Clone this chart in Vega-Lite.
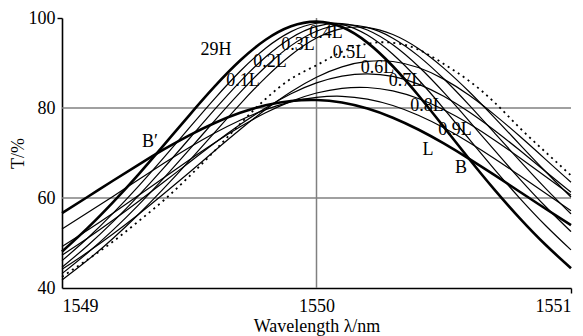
{
  "$schema": "https://vega.github.io/schema/vega-lite/v6.json",
  "width": 509,
  "height": 270,
  "autosize": {"type": "none"},
  "padding": {"left": 62, "top": 18, "right": 12, "bottom": 48},
  "config": {
    "view": {"stroke": null},
    "font": "Liberation Serif",
    "axis": {
      "labelFont": "Liberation Serif",
      "titleFont": "Liberation Serif",
      "labelFontSize": 18,
      "titleFontSize": 18,
      "titleFontWeight": "normal",
      "labelColor": "#000",
      "titleColor": "#000",
      "domainColor": "#000",
      "domainWidth": 1.6,
      "tickColor": "#000",
      "tickWidth": 1.4,
      "grid": false,
      "labelOverlap": false
    }
  },
  "datasets": {
    "curves": [
      {"curve":"29H","wl":1549.0,"T":48.09},{"curve":"29H","wl":1549.1,"T":53.31},{"curve":"29H","wl":1549.2,"T":59.04},{"curve":"29H","wl":1549.3,"T":65.21},{"curve":"29H","wl":1549.4,"T":71.75},{"curve":"29H","wl":1549.5,"T":78.38},{"curve":"29H","wl":1549.6,"T":84.79},{"curve":"29H","wl":1549.7,"T":90.54},{"curve":"29H","wl":1549.8,"T":95.16},{"curve":"29H","wl":1549.9,"T":98.16},{"curve":"29H","wl":1550.0,"T":99.2},{"curve":"29H","wl":1550.1,"T":97.99},{"curve":"29H","wl":1550.2,"T":94.53},{"curve":"29H","wl":1550.3,"T":89.28},{"curve":"29H","wl":1550.4,"T":82.84},{"curve":"29H","wl":1550.5,"T":75.81},{"curve":"29H","wl":1550.6,"T":68.68},{"curve":"29H","wl":1550.7,"T":61.81},{"curve":"29H","wl":1550.8,"T":55.42},{"curve":"29H","wl":1550.9,"T":49.6},{"curve":"29H","wl":1551.0,"T":44.39},
      {"curve":"0.1L","wl":1549.0,"T":46.06},{"curve":"0.1L","wl":1549.1,"T":51.05},{"curve":"0.1L","wl":1549.2,"T":56.57},{"curve":"0.1L","wl":1549.3,"T":62.58},{"curve":"0.1L","wl":1549.4,"T":68.97},{"curve":"0.1L","wl":1549.5,"T":75.58},{"curve":"0.1L","wl":1549.6,"T":82.1},{"curve":"0.1L","wl":1549.7,"T":88.17},{"curve":"0.1L","wl":1549.8,"T":93.29},{"curve":"0.1L","wl":1549.9,"T":96.98},{"curve":"0.1L","wl":1550.0,"T":98.83},{"curve":"0.1L","wl":1550.1,"T":98.6},{"curve":"0.1L","wl":1550.2,"T":96.21},{"curve":"0.1L","wl":1550.3,"T":91.96},{"curve":"0.1L","wl":1550.4,"T":86.33},{"curve":"0.1L","wl":1550.5,"T":79.87},{"curve":"0.1L","wl":1550.6,"T":73.07},{"curve":"0.1L","wl":1550.7,"T":66.31},{"curve":"0.1L","wl":1550.8,"T":59.87},{"curve":"0.1L","wl":1550.9,"T":53.89},{"curve":"0.1L","wl":1551.0,"T":48.46},
      {"curve":"0.2L","wl":1549.0,"T":44.61},{"curve":"0.2L","wl":1549.1,"T":49.4},{"curve":"0.2L","wl":1549.2,"T":54.7},{"curve":"0.2L","wl":1549.3,"T":60.49},{"curve":"0.2L","wl":1549.4,"T":66.69},{"curve":"0.2L","wl":1549.5,"T":73.17},{"curve":"0.2L","wl":1549.6,"T":79.68},{"curve":"0.2L","wl":1549.7,"T":85.88},{"curve":"0.2L","wl":1549.8,"T":91.35},{"curve":"0.2L","wl":1549.9,"T":95.58},{"curve":"0.2L","wl":1550.0,"T":98.14},{"curve":"0.2L","wl":1550.1,"T":98.76},{"curve":"0.2L","wl":1550.2,"T":97.34},{"curve":"0.2L","wl":1550.3,"T":94.06},{"curve":"0.2L","wl":1550.4,"T":89.28},{"curve":"0.2L","wl":1550.5,"T":83.47},{"curve":"0.2L","wl":1550.6,"T":77.09},{"curve":"0.2L","wl":1550.7,"T":70.56},{"curve":"0.2L","wl":1550.8,"T":64.16},{"curve":"0.2L","wl":1550.9,"T":58.11},{"curve":"0.2L","wl":1551.0,"T":52.52},
      {"curve":"0.3L","wl":1549.0,"T":43.2},{"curve":"0.3L","wl":1549.1,"T":47.78},{"curve":"0.3L","wl":1549.2,"T":52.85},{"curve":"0.3L","wl":1549.3,"T":58.42},{"curve":"0.3L","wl":1549.4,"T":64.43},{"curve":"0.3L","wl":1549.5,"T":70.75},{"curve":"0.3L","wl":1549.6,"T":77.2},{"curve":"0.3L","wl":1549.7,"T":83.47},{"curve":"0.3L","wl":1549.8,"T":89.18},{"curve":"0.3L","wl":1549.9,"T":93.86},{"curve":"0.3L","wl":1550.0,"T":97.07},{"curve":"0.3L","wl":1550.1,"T":98.46},{"curve":"0.3L","wl":1550.2,"T":97.9},{"curve":"0.3L","wl":1550.3,"T":95.52},{"curve":"0.3L","wl":1550.4,"T":91.59},{"curve":"0.3L","wl":1550.5,"T":86.5},{"curve":"0.3L","wl":1550.6,"T":80.64},{"curve":"0.3L","wl":1550.7,"T":74.43},{"curve":"0.3L","wl":1550.8,"T":68.2},{"curve":"0.3L","wl":1550.9,"T":62.15},{"curve":"0.3L","wl":1551.0,"T":56.47},
      {"curve":"0.4L","wl":1549.0,"T":41.78},{"curve":"0.4L","wl":1549.1,"T":46.15},{"curve":"0.4L","wl":1549.2,"T":51.0},{"curve":"0.4L","wl":1549.3,"T":56.33},{"curve":"0.4L","wl":1549.4,"T":62.12},{"curve":"0.4L","wl":1549.5,"T":68.26},{"curve":"0.4L","wl":1549.6,"T":74.6},{"curve":"0.4L","wl":1549.7,"T":80.88},{"curve":"0.4L","wl":1549.8,"T":86.76},{"curve":"0.4L","wl":1549.9,"T":91.79},{"curve":"0.4L","wl":1550.0,"T":95.55},{"curve":"0.4L","wl":1550.1,"T":97.65},{"curve":"0.4L","wl":1550.2,"T":97.86},{"curve":"0.4L","wl":1550.3,"T":96.32},{"curve":"0.4L","wl":1550.4,"T":93.22},{"curve":"0.4L","wl":1550.5,"T":88.86},{"curve":"0.4L","wl":1550.6,"T":83.6},{"curve":"0.4L","wl":1550.7,"T":77.81},{"curve":"0.4L","wl":1550.8,"T":71.82},{"curve":"0.4L","wl":1550.9,"T":65.89},{"curve":"0.4L","wl":1551.0,"T":60.2},
      {"curve":"0.5L","wl":1549.0,"T":42.5},{"curve":"0.5L","wl":1549.1,"T":46.3},{"curve":"0.5L","wl":1549.2,"T":50.3},{"curve":"0.5L","wl":1549.3,"T":54.8},{"curve":"0.5L","wl":1549.4,"T":59.5},{"curve":"0.5L","wl":1549.5,"T":64.8},{"curve":"0.5L","wl":1549.6,"T":70.5},{"curve":"0.5L","wl":1549.7,"T":76.5},{"curve":"0.5L","wl":1549.8,"T":82.0},{"curve":"0.5L","wl":1549.9,"T":86.5},{"curve":"0.5L","wl":1550.0,"T":89.5},{"curve":"0.5L","wl":1550.1,"T":92.5},{"curve":"0.5L","wl":1550.2,"T":94.3},{"curve":"0.5L","wl":1550.3,"T":94.5},{"curve":"0.5L","wl":1550.4,"T":93.0},{"curve":"0.5L","wl":1550.5,"T":89.8},{"curve":"0.5L","wl":1550.6,"T":86.0},{"curve":"0.5L","wl":1550.7,"T":81.2},{"curve":"0.5L","wl":1550.8,"T":75.5},{"curve":"0.5L","wl":1550.9,"T":70.2},{"curve":"0.5L","wl":1551.0,"T":65.0},
      {"curve":"0.6L","wl":1549.0,"T":44.15},{"curve":"0.6L","wl":1549.1,"T":47.92},{"curve":"0.6L","wl":1549.2,"T":51.99},{"curve":"0.6L","wl":1549.3,"T":56.34},{"curve":"0.6L","wl":1549.4,"T":60.93},{"curve":"0.6L","wl":1549.5,"T":65.68},{"curve":"0.6L","wl":1549.6,"T":70.49},{"curve":"0.6L","wl":1549.7,"T":75.22},{"curve":"0.6L","wl":1549.8,"T":79.66},{"curve":"0.6L","wl":1549.9,"T":83.62},{"curve":"0.6L","wl":1550.0,"T":86.85},{"curve":"0.6L","wl":1550.1,"T":89.15},{"curve":"0.6L","wl":1550.2,"T":90.35},{"curve":"0.6L","wl":1550.3,"T":90.33},{"curve":"0.6L","wl":1550.4,"T":88.99},{"curve":"0.6L","wl":1550.5,"T":86.42},{"curve":"0.6L","wl":1550.6,"T":82.83},{"curve":"0.6L","wl":1550.7,"T":78.48},{"curve":"0.6L","wl":1550.8,"T":73.65},{"curve":"0.6L","wl":1550.9,"T":68.59},{"curve":"0.6L","wl":1551.0,"T":63.49},
      {"curve":"0.7L","wl":1549.0,"T":47.3},{"curve":"0.7L","wl":1549.1,"T":51.05},{"curve":"0.7L","wl":1549.2,"T":55.04},{"curve":"0.7L","wl":1549.3,"T":59.22},{"curve":"0.7L","wl":1549.4,"T":63.54},{"curve":"0.7L","wl":1549.5,"T":67.91},{"curve":"0.7L","wl":1549.6,"T":72.22},{"curve":"0.7L","wl":1549.7,"T":76.31},{"curve":"0.7L","wl":1549.8,"T":80.02},{"curve":"0.7L","wl":1549.9,"T":83.17},{"curve":"0.7L","wl":1550.0,"T":85.57},{"curve":"0.7L","wl":1550.1,"T":87.08},{"curve":"0.7L","wl":1550.2,"T":87.6},{"curve":"0.7L","wl":1550.3,"T":87.02},{"curve":"0.7L","wl":1550.4,"T":85.31},{"curve":"0.7L","wl":1550.5,"T":82.6},{"curve":"0.7L","wl":1550.6,"T":79.1},{"curve":"0.7L","wl":1550.7,"T":75.0},{"curve":"0.7L","wl":1550.8,"T":70.54},{"curve":"0.7L","wl":1550.9,"T":65.9},{"curve":"0.7L","wl":1551.0,"T":61.26},
      {"curve":"0.8L","wl":1549.0,"T":49.22},{"curve":"0.8L","wl":1549.1,"T":52.84},{"curve":"0.8L","wl":1549.2,"T":56.62},{"curve":"0.8L","wl":1549.3,"T":60.54},{"curve":"0.8L","wl":1549.4,"T":64.52},{"curve":"0.8L","wl":1549.5,"T":68.46},{"curve":"0.8L","wl":1549.6,"T":72.27},{"curve":"0.8L","wl":1549.7,"T":75.81},{"curve":"0.8L","wl":1549.8,"T":78.93},{"curve":"0.8L","wl":1549.9,"T":81.48},{"curve":"0.8L","wl":1550.0,"T":83.33},{"curve":"0.8L","wl":1550.1,"T":84.38},{"curve":"0.8L","wl":1550.2,"T":84.56},{"curve":"0.8L","wl":1550.3,"T":83.79},{"curve":"0.8L","wl":1550.4,"T":82.1},{"curve":"0.8L","wl":1550.5,"T":79.62},{"curve":"0.8L","wl":1550.6,"T":76.48},{"curve":"0.8L","wl":1550.7,"T":72.85},{"curve":"0.8L","wl":1550.8,"T":68.9},{"curve":"0.8L","wl":1550.9,"T":64.79},{"curve":"0.8L","wl":1551.0,"T":60.63},
      {"curve":"0.9L","wl":1549.0,"T":53.13},{"curve":"0.9L","wl":1549.1,"T":56.7},{"curve":"0.9L","wl":1549.2,"T":60.36},{"curve":"0.9L","wl":1549.3,"T":64.06},{"curve":"0.9L","wl":1549.4,"T":67.71},{"curve":"0.9L","wl":1549.5,"T":71.21},{"curve":"0.9L","wl":1549.6,"T":74.44},{"curve":"0.9L","wl":1549.7,"T":77.29},{"curve":"0.9L","wl":1549.8,"T":79.63},{"curve":"0.9L","wl":1549.9,"T":81.35},{"curve":"0.9L","wl":1550.0,"T":82.35},{"curve":"0.9L","wl":1550.1,"T":82.6},{"curve":"0.9L","wl":1550.2,"T":81.98},{"curve":"0.9L","wl":1550.3,"T":80.55},{"curve":"0.9L","wl":1550.4,"T":78.38},{"curve":"0.9L","wl":1550.5,"T":75.6},{"curve":"0.9L","wl":1550.6,"T":72.33},{"curve":"0.9L","wl":1550.7,"T":68.73},{"curve":"0.9L","wl":1550.8,"T":64.93},{"curve":"0.9L","wl":1550.9,"T":61.05},{"curve":"0.9L","wl":1551.0,"T":57.19},
      {"curve":"L","wl":1549.0,"T":56.63},{"curve":"L","wl":1549.1,"T":60.22},{"curve":"L","wl":1549.2,"T":63.83},{"curve":"L","wl":1549.3,"T":67.38},{"curve":"L","wl":1549.4,"T":70.78},{"curve":"L","wl":1549.5,"T":73.92},{"curve":"L","wl":1549.6,"T":76.68},{"curve":"L","wl":1549.7,"T":78.93},{"curve":"L","wl":1549.8,"T":80.59},{"curve":"L","wl":1549.9,"T":81.56},{"curve":"L","wl":1550.0,"T":81.79},{"curve":"L","wl":1550.1,"T":81.22},{"curve":"L","wl":1550.2,"T":79.88},{"curve":"L","wl":1550.3,"T":77.85},{"curve":"L","wl":1550.4,"T":75.22},{"curve":"L","wl":1550.5,"T":72.13},{"curve":"L","wl":1550.6,"T":68.7},{"curve":"L","wl":1550.7,"T":65.07},{"curve":"L","wl":1550.8,"T":61.34},{"curve":"L","wl":1550.9,"T":57.61},{"curve":"L","wl":1551.0,"T":53.96}
    ],
    "labels": [
      {"label":"29H","wl":1549.605,"T":93.0},
      {"label":"0.1L","wl":1549.711,"T":86.0},
      {"label":"0.2L","wl":1549.817,"T":90.2},
      {"label":"0.3L","wl":1549.927,"T":94.0},
      {"label":"0.4L","wl":1550.037,"T":96.7},
      {"label":"0.5L","wl":1550.13,"T":92.2},
      {"label":"0.6L","wl":1550.24,"T":88.9},
      {"label":"0.7L","wl":1550.35,"T":86.0},
      {"label":"0.8L","wl":1550.434,"T":80.4},
      {"label":"0.9L","wl":1550.544,"T":75.1},
      {"label":"L","wl":1550.438,"T":70.7},
      {"label":"B","wl":1550.568,"T":66.7},
      {"label":"B′","wl":1549.346,"T":72.4}
    ],
    "hgrid": [{"T": 60}, {"T": 80}],
    "vgrid": [{"wl": 1550}]
  },
  "layer": [
    {
      "data": {"name": "hgrid"},
      "mark": {"type": "rule", "color": "#808080", "strokeWidth": 1.5},
      "encoding": {
        "y": {"field": "T", "type": "quantitative", "scale": {"domain": [40, 100], "nice": false, "zero": false}}
      }
    },
    {
      "data": {"name": "vgrid"},
      "mark": {"type": "rule", "color": "#808080", "strokeWidth": 1.5},
      "encoding": {
        "x": {"field": "wl", "type": "quantitative", "scale": {"domain": [1549, 1551], "nice": false, "zero": false}}
      }
    },
    {
      "data": {"name": "curves"},
      "transform": [{"filter": "datum.curve !== '29H' && datum.curve !== 'L' && datum.curve !== '0.5L'"}],
      "mark": {"type": "line", "interpolate": "natural", "color": "#000", "strokeWidth": 1.2},
      "encoding": {
        "x": {"field": "wl", "type": "quantitative", "scale": {"domain": [1549, 1551], "nice": false, "zero": false},
          "axis": {"tickCount": 2, "format": "d", "title": "Wavelength λ/nm", "tickSize": 5, "labelPadding": 4, "titlePadding": 2, "labelOverlap": false, "labelFlush": true,
            "tickOpacity": {"condition": {"test": "datum.value === 1551", "value": 1}, "value": 0}}},
        "y": {"field": "T", "type": "quantitative", "scale": {"domain": [40, 100], "nice": false, "zero": false},
          "axis": {"values": [40, 60, 80, 100], "title": "T/%", "tickSize": 5, "labelPadding": 2, "titlePadding": 1, "labelOverlap": false,
            "tickOpacity": {"condition": {"test": "datum.value === 100", "value": 1}, "value": 0}}},
        "detail": {"field": "curve", "type": "nominal"}
      }
    },
    {
      "data": {"name": "curves"},
      "transform": [{"filter": "datum.curve === '0.5L'"}],
      "mark": {"type": "line", "interpolate": "natural", "color": "#000", "strokeWidth": 1.8, "strokeDash": [2, 4]},
      "encoding": {
        "x": {"field": "wl", "type": "quantitative"},
        "y": {"field": "T", "type": "quantitative"},
        "detail": {"field": "curve", "type": "nominal"}
      }
    },
    {
      "data": {"name": "curves"},
      "transform": [{"filter": "datum.curve === '29H' || datum.curve === 'L'"}],
      "mark": {"type": "line", "interpolate": "natural", "color": "#000", "strokeWidth": 2.6},
      "encoding": {
        "x": {"field": "wl", "type": "quantitative"},
        "y": {"field": "T", "type": "quantitative"},
        "detail": {"field": "curve", "type": "nominal"}
      }
    },
    {
      "data": {"name": "labels"},
      "mark": {"type": "text", "font": "Liberation Serif", "fontSize": 18, "color": "#000", "align": "center", "baseline": "middle"},
      "encoding": {
        "x": {"field": "wl", "type": "quantitative"},
        "y": {"field": "T", "type": "quantitative"},
        "text": {"field": "label", "type": "nominal"},
        "fontStyle": {"condition": {"test": "datum.label === 'B' || datum.label === 'B′'", "value": "italic"}, "value": "normal"}
      }
    }
  ]
}
